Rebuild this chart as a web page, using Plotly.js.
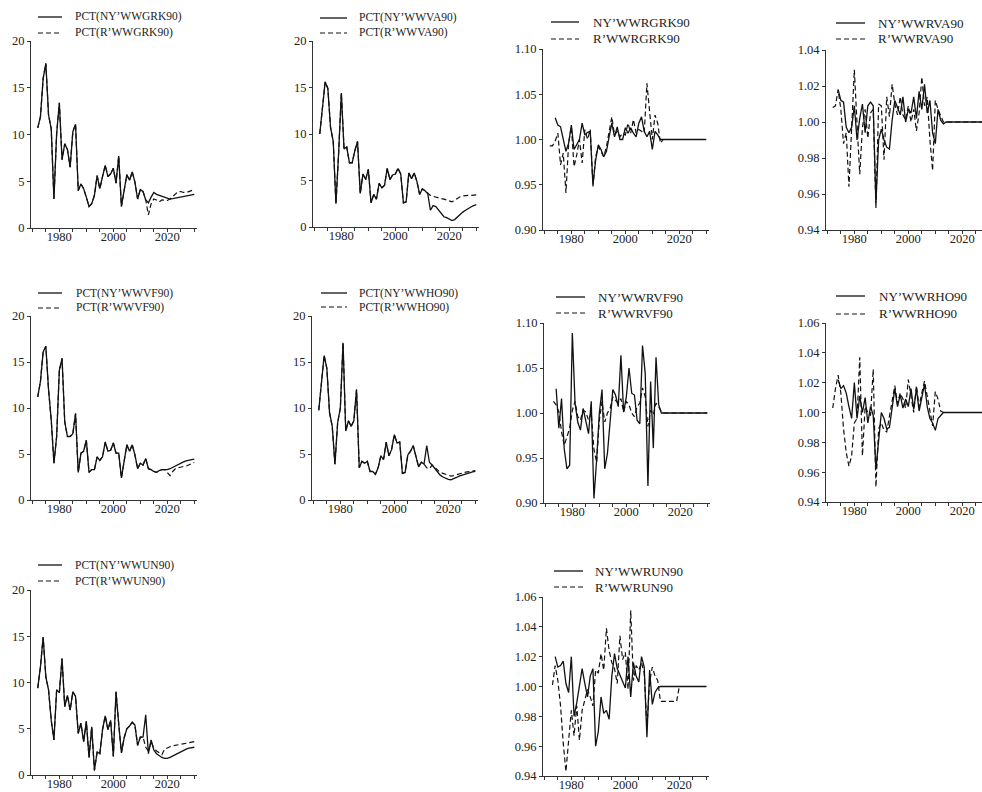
<!DOCTYPE html>
<html><head><meta charset="utf-8">
<script src="https://cdn.plot.ly/plotly-3.0.1.min.js"></script>
<style>html,body{margin:0;padding:0;background:#fff}#chart{width:982px;height:792px}</style>
</head><body><div id="chart"></div>
<script>
const years = [1972,1973,1974,1975,1976,1977,1978,1979,1980,1981,
 1982,1983,1984,1985,1986,1987,1988,1989,1990,1991,
 1992,1993,1994,1995,1996,1997,1998,1999,2000,2001,
 2002,2003,2004,2005,2006,2007,2008,2009,2010,2011,
 2012,2013,2014,2015,2016,2017,2018,2019,2020,2021,
 2022,2023,2024,2025,2026,2027,2028,2029,2030];

const xTickVals = [1970,1975,1980,1985,1990,1995,2000,2005,2010,2015,2020,2025,2030];
const xTickText = ['','','1980','','','','2000','','','','2020','',''];
const pctTicks = [0,5,10,15,20];
const ratioTicksA = [0.90,0.95,1.00,1.05,1.10];
const ratioTicksB = [0.94,0.96,0.98,1.00,1.02,1.04];
const ratioTicksC = [0.94,0.96,0.98,1.00,1.02,1.04,1.06];

// Panel 1: GRK growth
const pctNY_GRK = [10.7,11.9,16.0,17.6,12.1,10.6,3.1,10.1,13.4,7.3,
 9.0,8.4,6.5,10.3,11.1,4.0,4.7,4.2,3.3,2.3,
 2.6,3.5,5.6,4.2,5.5,6.7,5.5,5.8,6.4,4.8,
 7.7,2.3,4.0,5.7,5.1,6.0,4.9,3.1,4.1,3.9,
 3.0,2.7,3.3,3.8,3.6,3.5,3.4,3.3,3.2,3.1,
 3.15,3.2,3.25,3.3,3.35,3.4,3.45,3.5,3.6];
const pctR_GRK = [10.7,11.9,16.0,17.6,12.1,10.6,3.1,10.1,13.4,7.3,
 9.0,8.4,6.5,10.3,11.1,4.0,4.7,4.2,3.3,2.3,
 2.6,3.5,5.6,4.2,5.5,6.7,5.5,5.8,6.4,4.8,
 7.7,2.3,4.0,5.7,5.1,6.0,4.9,3.1,4.1,3.9,
 3.0,1.4,2.6,3.1,3.0,2.8,3.0,3.0,2.95,3.1,
 3.4,3.7,3.9,3.9,3.8,3.8,3.9,4.0,4.1];

// Panel 2: VA growth
const pctNY_VA = [10.0,12.7,15.6,14.9,10.7,9.2,2.5,8.0,14.4,8.4,
 8.6,6.9,6.9,8.2,9.2,3.6,5.7,5.1,6.2,2.6,
 3.5,3.0,4.7,4.2,4.5,6.3,5.1,5.6,5.7,6.3,
 5.7,2.6,2.7,5.8,5.2,5.8,4.9,3.5,4.1,3.9,
 3.6,1.8,2.3,2.2,1.8,1.4,1.1,1.0,0.85,0.7,
 0.8,1.1,1.4,1.6,1.8,2.0,2.15,2.3,2.4];
const pctR_VA = [10.0,12.7,15.6,14.9,10.7,9.2,2.5,8.0,14.4,8.4,
 8.6,6.9,6.9,8.2,9.2,3.6,5.7,5.1,6.2,2.6,
 3.5,3.0,4.7,4.2,4.5,6.3,5.1,5.6,5.7,6.3,
 5.7,2.6,2.7,5.8,5.2,5.8,4.9,3.5,4.1,3.9,
 3.6,3.4,3.3,3.2,3.1,3.05,3.0,2.9,2.8,2.7,
 2.9,3.1,3.25,3.35,3.4,3.4,3.4,3.4,3.45];

// Panel 3: GRK ratio
const rNY_GRK = [null,null,1.024,1.016,1.014,1.000,0.987,0.996,1.016,0.989,
 0.994,1.000,1.018,1.005,1.008,1.009,0.950,0.977,0.994,0.989,
 0.981,0.987,1.003,1.018,1.003,1.014,1.000,1.000,1.013,1.007,
 1.013,1.007,1.003,1.018,1.025,1.009,1.003,1.009,0.989,1.009,
 1.005,1.000,1,1,1,1,1,1,1,1,
 1,1,1,1,1,1,1,1,1];
const rR_GRK = [0.993,0.993,0.998,1.007,0.972,0.985,0.941,0.996,1.014,0.970,
 0.983,1.000,0.974,1.011,1.000,1.011,0.948,0.981,0.992,0.987,
 0.981,0.992,1.009,1.025,1.005,1.009,1.003,1.007,1.005,1.018,
 1.007,1.022,1.007,1.011,1.009,1.007,1.062,1.033,1.000,1.027,
 1.018,0.996,1,1,1,1,1,1,1,1,
 1,1,1,1,1,1,1,1,1];

// Panel 4: VA ratio
const rNY_VA = [null,null,1.018,1.012,1.011,0.997,0.994,0.997,1.009,0.990,
 1.002,1.010,0.994,1.009,1.011,1.009,0.955,0.990,0.996,0.990,
 0.986,0.985,1.001,1.012,1.008,1.004,1.014,1.000,1.007,1.005,
 1.014,1.002,1.017,1.007,1.021,1.005,1.012,0.994,0.988,1.007,
 1.001,0.999,1,1,1,1,1,1,1,1,
 1,1,1,1,1,1,1,1,1];
const rR_VA = [1.008,1.009,1.018,1.007,0.988,0.994,0.964,0.997,1.029,0.999,
 0.971,0.997,1.007,0.991,1.005,1.007,0.952,1.010,1.009,0.979,
 1.014,1.003,1.021,1.010,1.004,1.014,1.004,1.001,1.009,1.000,
 1.007,0.995,1.005,1.025,1.009,1.014,0.990,0.973,1.012,1.007,
 1.003,1.000,1,1,1,1,1,1,1,1,
 1,1,1,1,1,1,1,1,1];

// Panel 5: VF growth
const pctNY_VF = [11.2,12.9,16.1,16.7,12.0,8.7,4.0,6.9,14.1,15.4,
 8.5,6.9,6.9,7.2,9.4,3.0,5.1,5.3,6.5,3.0,
 3.3,3.3,4.7,4.3,4.7,6.3,5.3,5.4,6.2,5.1,
 5.1,2.4,4.2,6.0,5.3,6.0,4.9,3.4,4.0,3.8,
 4.5,3.4,3.3,3.1,3.0,3.2,3.3,3.3,3.3,3.4,
 3.55,3.7,3.9,4.05,4.15,4.25,4.35,4.4,4.45];
const pctR_VF = [11.2,12.9,16.1,16.7,12.0,8.7,4.0,6.9,14.1,15.4,
 8.5,6.9,6.9,7.2,9.4,3.0,5.1,5.3,6.5,3.0,
 3.3,3.3,4.7,4.3,4.7,6.3,5.3,5.4,6.2,5.1,
 5.1,2.4,4.2,6.0,5.3,6.0,4.9,3.4,4.0,3.8,
 4.5,3.4,3.3,3.1,3.0,3.2,3.3,3.3,3.0,2.65,
 3.1,3.4,3.5,3.6,3.65,3.7,3.8,3.95,4.1];

// Panel 6: HO growth
const pctNY_HO = [9.75,13.1,15.7,14.3,9.5,8.0,3.9,8.4,10.0,17.1,
 7.5,8.6,8.0,8.6,12.0,3.5,4.2,4.0,4.2,3.1,
 3.1,2.8,3.5,4.8,4.4,6.3,4.8,5.5,7.1,6.2,
 6.3,2.9,3.0,4.9,5.3,5.9,4.7,3.6,4.1,3.9,
 5.9,4.1,3.8,3.4,3.0,2.7,2.5,2.35,2.25,2.2,
 2.3,2.45,2.6,2.7,2.8,2.9,3.0,3.05,3.1];
const pctR_HO = [9.75,13.1,15.7,14.3,9.5,8.0,3.9,8.4,10.0,17.1,
 7.5,8.6,8.0,8.6,12.0,3.5,4.2,4.0,4.2,3.1,
 3.1,2.8,3.5,4.8,4.4,6.3,4.8,5.5,7.1,6.2,
 6.3,2.9,3.0,4.9,5.3,5.9,4.7,3.6,4.1,3.9,
 3.5,3.4,3.8,3.5,3.2,3.0,2.9,2.8,2.7,2.6,
 2.65,2.75,2.85,2.95,3.0,3.05,3.1,3.15,3.2];

// Panel 7: VF ratio
const rNY_VF = [null,null,1.027,0.983,1.016,0.960,0.938,0.942,1.089,1.011,
 0.990,0.981,1.005,0.990,0.977,1.013,0.905,0.948,1.000,1.026,
 0.938,0.955,0.992,1.026,1.020,1.007,1.064,1.001,1.018,1.050,
 1.022,1.020,0.992,0.988,1.075,1.044,0.919,1.035,0.961,1.062,
 1.009,1.000,1,1,1,1,1,1,1,1,
 1,1,1,1,1,1,1,1,1];
const rR_VF = [null,1.013,1.009,1.001,0.979,0.964,0.974,0.983,1.003,1.013,
 0.996,0.992,1.003,1.001,0.992,1.000,0.960,0.945,0.992,1.013,
 0.990,1.000,1.005,1.018,1.014,1.011,1.016,1.001,1.013,1.009,
 1.000,0.996,1.007,1.011,1.028,1.018,0.985,1.003,0.998,1.011,
 1.007,1.001,1,1,1,1,1,1,1,1,
 1,1,1,1,1,1,1,1,1];

// Panel 8: HO ratio
const rNY_HO = [null,null,1.022,1.016,1.018,1.013,1.004,0.996,1.020,0.996,
 1.011,1.000,1.010,0.993,1.004,0.998,0.962,0.984,1.000,0.996,
 0.989,0.990,1.002,1.016,1.004,1.012,1.003,1.009,1.004,1.016,
 1.002,1.016,1.001,1.011,1.019,1.004,0.996,0.993,0.988,0.996,
 0.998,1.000,1,1,1,1,1,1,1,1,
 1,1,1,1,1,1,1,1,1];
const rR_HO = [1.003,1.016,1.025,1.013,0.989,0.973,0.964,0.971,0.993,0.996,
 1.037,0.971,1.004,1.000,0.998,1.029,0.950,0.989,0.993,0.988,
 0.987,0.998,1.007,1.018,1.006,1.013,1.009,1.003,1.022,1.012,
 1.000,1.018,1.004,1.013,1.021,1.011,1.000,0.991,1.014,1.009,
 1.001,1.000,1,1,1,1,1,1,1,1,
 1,1,1,1,1,1,1,1,1];

// Panel 9: UN growth
const pctNY_UN = [9.4,11.7,14.9,10.6,9.2,5.9,3.8,9.2,8.9,12.6,
 7.4,8.6,7.0,9.0,8.5,4.5,5.6,3.6,5.8,1.9,
 5.2,0.5,2.5,2.3,4.9,6.4,4.9,5.9,2.0,9.0,
 5.5,2.4,4.0,5.0,5.3,5.7,5.4,3.2,4.1,4.1,
 6.5,2.3,3.8,2.7,2.3,2.05,1.9,1.8,1.8,1.9,
 2.05,2.2,2.4,2.55,2.7,2.8,2.9,2.95,3.0];
const pctR_UN = [9.4,11.7,14.9,10.6,9.2,5.9,3.8,9.2,8.9,12.6,
 7.4,8.6,7.0,9.0,8.5,4.5,5.6,3.6,5.8,1.9,
 5.2,0.5,2.5,2.3,4.9,6.4,4.9,5.9,2.0,9.0,
 5.5,2.4,4.0,5.0,5.3,5.7,5.4,3.2,4.1,4.1,
 3.0,2.6,3.6,2.9,2.6,2.4,2.2,2.8,2.95,3.05,
 3.15,3.2,3.3,3.35,3.4,3.45,3.5,3.55,3.6];

// Panel 10: UN ratio
const rNY_UN = [null,null,1.020,1.013,1.014,1.017,1.002,0.996,1.020,0.980,
 0.989,1.000,1.012,1.002,0.993,1.007,1.012,0.960,0.970,0.993,
 0.982,0.984,0.978,1.007,1.022,1.012,1.008,1.003,0.999,1.020,
 0.993,1.016,1.007,1.003,1.020,1.013,0.966,1.011,0.988,0.996,
 0.999,1.000,1,1,1,1,1,1,1,1,
 1,1,1,1,1,1,1,1,1];
const rR_UN = [null,1.001,1.014,1.004,0.987,0.962,0.943,0.964,0.984,0.967,
 0.987,0.964,0.984,0.991,0.998,0.993,0.987,1.011,1.009,1.022,
 1.011,1.039,1.024,1.016,1.012,1.002,1.034,1.018,1.023,0.998,
 1.051,1.004,1.014,1.011,1.016,1.009,0.973,1.003,1.013,1.007,
 1.004,0.990,0.990,0.990,0.990,0.990,0.990,0.990,1.000,1.000,
 1,1,1,1,1,1,1,1,1];

const W = 982, H = 792;
const FONT = 'Liberation Serif, Times New Roman, serif';
const INK = '#222';

// layout geometry (pixels) per panel; key: line from l0 to l1, rows at ya/yb, text at tx
const panels = [
 {ny:pctNY_GRK, r:pctR_GRK, n1:'PCT(NY’WWGRK90)', n2:'PCT(R’WWGRK90)', x:[31,197], y:[41,228], xr:[1969.5,2031], yr:[0,20], yt:pctTicks, fmt:'d', leg:[38,62,17,33,73], lf:11.5},
 {ny:pctNY_VA, r:pctR_VA, n1:'PCT(NY’WWVA90)', n2:'PCT(R’WWVA90)', x:[313,479], y:[41,227], xr:[1969.5,2031], yr:[0,20], yt:pctTicks, fmt:'d', leg:[320,347,18,33,357], lf:11.5},
 {ny:rNY_GRK, r:rR_GRK, n1:'NY’WWRGRK90', n2:'R’WWRGRK90', x:[543,709], y:[49,230], xr:[1969.5,2031], yr:[0.90,1.10], yt:ratioTicksA, fmt:'.2f', leg:[551,579,22,39,591], lf:13},
 {ny:rNY_VA, r:rR_VA, n1:'NY’WWRVA90', n2:'R’WWRVA90', x:[826,982], y:[50,230], xr:[1969.5,2027.3], yr:[0.94,1.04], yt:ratioTicksB, fmt:'.2f', leg:[836,865,23,39,876], lf:13},
 {ny:pctNY_VF, r:pctR_VF, n1:'PCT(NY’WWVF90)', n2:'PCT(R’WWVF90)', x:[31,197], y:[316,500], xr:[1969.5,2031], yr:[0,20], yt:pctTicks, fmt:'d', leg:[38,62,293,308,74], lf:11.5},
 {ny:pctNY_HO, r:pctR_HO, n1:'PCT(NY’WWHO90)', n2:'PCT(R’WWHO90)', x:[312,478], y:[316,500], xr:[1969.5,2031], yr:[0,20], yt:pctTicks, fmt:'d', leg:[321,347,293,307,357], lf:11.5},
 {ny:rNY_VF, r:rR_VF, n1:'NY’WWRVF90', n2:'R’WWRVF90', x:[544,710], y:[323,503], xr:[1969.5,2031], yr:[0.90,1.10], yt:ratioTicksA, fmt:'.2f', leg:[556,585,297,313,596], lf:13},
 {ny:rNY_HO, r:rR_HO, n1:'NY’WWRHO90', n2:'R’WWRHO90', x:[826,982], y:[323,502], xr:[1969.5,2027.3], yr:[0.94,1.06], yt:ratioTicksC, fmt:'.2f', leg:[836,865,296,314,877], lf:13},
 {ny:pctNY_UN, r:pctR_UN, n1:'PCT(NY’WWUN90)', n2:'PCT(R’WWUN90)', x:[31,197], y:[590,775], xr:[1969.5,2031], yr:[0,20], yt:pctTicks, fmt:'d', leg:[38,62,565,581,73], lf:11.5},
 {ny:rNY_UN, r:rR_UN, n1:'NY’WWRUN90', n2:'R’WWRUN90', x:[543,709], y:[597,776], xr:[1969.5,2031], yr:[0.94,1.06], yt:ratioTicksC, fmt:'.2f', leg:[554,583,571,587,593], lf:13}
];

const SOLID = {color: '#111', width: 1.3};
const DASHED = {color: '#111', width: 1.2, dash: '5px,3px'};

const data = [];
const shapes = [];
const annotations = [];
const layout = {
  width: W, height: H,
  margin: {l:0, r:0, t:0, b:0},
  paper_bgcolor: '#fff', plot_bgcolor: '#fff',
  font: {family: FONT, color: INK, size: 12},
  showlegend: false
};

const px = v => v / W;
const py = v => 1 - v / H;

panels.forEach((p, i) => {
  const k = i + 1;
  const sfx = k === 1 ? '' : String(k);
  data.push({
    x: years, y: p.ny, name: p.n1, type: 'scatter', mode: 'lines',
    xaxis: 'x' + sfx, yaxis: 'y' + sfx,
    line: SOLID, connectgaps: false, hoverinfo: 'skip'
  });
  data.push({
    x: years, y: p.r, name: p.n2, type: 'scatter', mode: 'lines',
    xaxis: 'x' + sfx, yaxis: 'y' + sfx,
    line: DASHED, connectgaps: false, hoverinfo: 'skip'
  });
  layout['xaxis' + sfx] = {
    domain: [p.x[0] / W, p.x[1] / W], anchor: 'y' + sfx, range: p.xr,
    showline: true, linecolor: '#333', linewidth: 1, mirror: false,
    ticks: 'outside', ticklen: 3, tickwidth: 1, tickcolor: '#333',
    tickmode: 'array', tickvals: xTickVals, ticktext: xTickText,
    ticklabelstandoff: -6,
    showgrid: false, zeroline: false, tickfont: {family: FONT, size: 12.5, color: INK}
  };
  layout['yaxis' + sfx] = {
    domain: [1 - p.y[1] / H, 1 - p.y[0] / H], anchor: 'x' + sfx, range: p.yr,
    showline: true, linecolor: '#333', linewidth: 1, mirror: false,
    ticks: 'outside', ticklen: 3, tickwidth: 1, tickcolor: '#333',
    tickmode: 'array', tickvals: p.yt, tickformat: p.fmt,
    showgrid: false, zeroline: false, tickfont: {family: FONT, size: 12.5, color: INK}
  };
  // key for this panel
  const [l0, l1, ya, yb, tx] = p.leg;
  shapes.push({type:'line', xref:'paper', yref:'paper', x0:px(l0), x1:px(l1), y0:py(ya), y1:py(ya), line:SOLID});
  shapes.push({type:'line', xref:'paper', yref:'paper', x0:px(l0), x1:px(l1), y0:py(yb), y1:py(yb), line:DASHED});
  annotations.push({xref:'paper', yref:'paper', x:px(tx), y:py(ya), xanchor:'left', yanchor:'middle', showarrow:false, text:p.n1, font:{family:FONT, size:p.lf, color:INK}});
  annotations.push({xref:'paper', yref:'paper', x:px(tx), y:py(yb), xanchor:'left', yanchor:'middle', showarrow:false, text:p.n2, font:{family:FONT, size:p.lf, color:INK}});
});
layout.shapes = shapes;
layout.annotations = annotations;

Plotly.newPlot('chart', data, layout, {staticPlot: true, displayModeBar: false});
</script>
</body></html>
